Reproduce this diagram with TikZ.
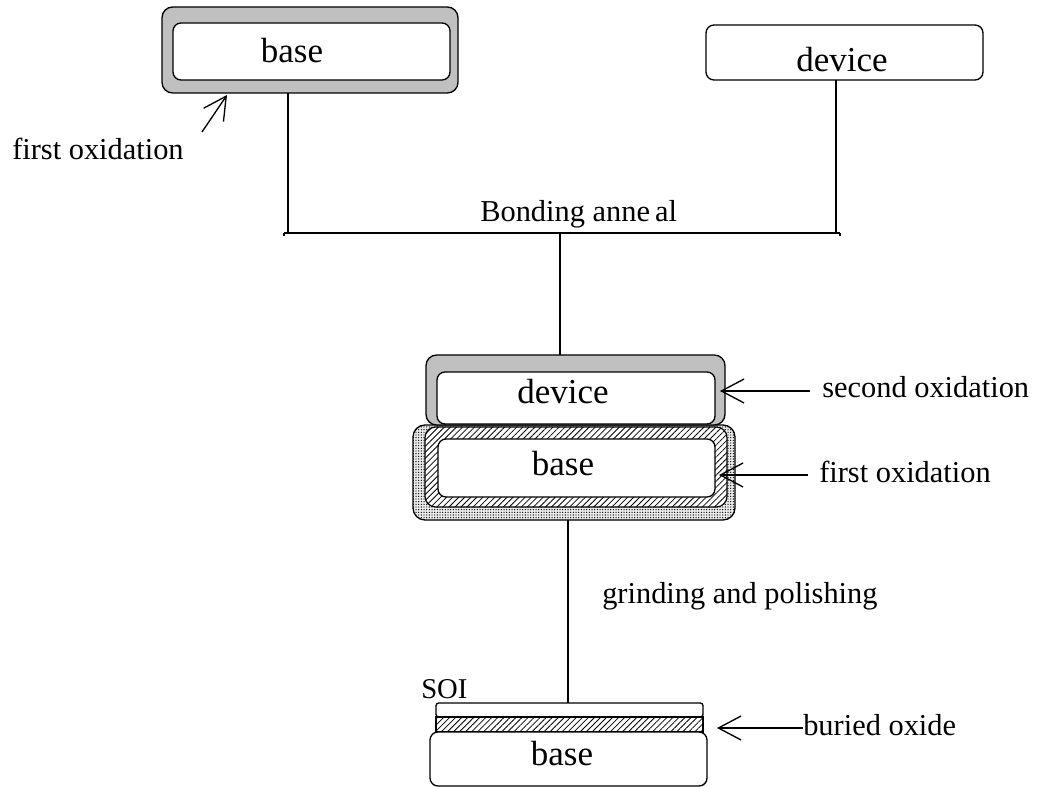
\documentclass[tikz,border=0pt]{standalone}
\usepackage{fontspec}
\setmainfont{Liberation Serif}
\usetikzlibrary{arrows.meta,patterns.meta}
\definecolor{oxgray}{HTML}{C0C0C0}
\tikzset{
  wh/.style 2 args={minimum width=#1*0.75pt, minimum height=#2*0.75pt, inner sep=0pt, outer sep=0pt},
  wafer/.style={draw=black, line width=1pt, fill=white, rounded corners=6pt},
  oxide/.style={draw=black, line width=1pt, fill=oxgray, rounded corners=8pt},
  hatch/.style={draw=black, line width=0.9pt, preaction={fill=white},
    pattern={Lines[angle=45,distance=3.2pt,line width=0.6pt]}},
  dotted ox/.style={draw=black, line width=1pt, preaction={fill=gray!15},
    pattern={Dots[distance=2pt,radius=0.5pt]}, rounded corners=9pt},
  bigtxt/.style={font=\fontsize{26.25}{30}\selectfont, inner sep=0pt, anchor=base},
  lbl/.style={font=\fontsize{22.8}{26}\selectfont, inner sep=0pt, anchor=base west},
  line/.style={line width=1pt},
  arr/.style={line width=1pt, -{Straight Barb[length=17pt,width=18pt,line width=1pt]}},
}
\begin{document}
\begin{tikzpicture}[x=0.75pt,y=-0.75pt]
\useasboundingbox (0,0) rectangle (1037,787);
% ---- top left: base with first oxidation
\node[oxide, wh={296}{86}] (ox1) at (310,50) {};
\node[wafer, wh={277}{57}] (base1) at (311.5,51.5) {};
\node[bigtxt] (base1t) at (292,63) {base};
% ---- top right: device
\node[wafer, wh={277}{55}] (dev1) at (844.5,52.5) {};
\node[bigtxt] (dev1t) at (842,72) {device};
% ---- first oxidation label (top left)
\node[lbl] (fo1) at (12,160) {first oxidation};
\coordinate (fo1tail) at (202,132);
\coordinate (fo1tip) at (227,95);
\draw[arr] (fo1tail) -- (fo1tip);
% ---- bonding anneal junction
\coordinate (j1) at (288,233);
\coordinate (j2) at (836,233);
\coordinate (jm) at (560,233);
\draw[line] (ox1.south -| j1) -- (j1);
\draw[line] (dev1.south -| j2) -- (j2);
\draw[line] ([xshift=-3]j1) -- ([xshift=3]j2);
\draw[line] ([xshift=-3]j1) -- ++(0,3);
\draw[line] ([xshift=3]j2) -- ++(0,3);
\node[lbl] (ba) at (480,222) {Bonding anne\,al};
% ---- bonded pair
\node[dotted ox, wh={322}{95}] (cmp) at (574,472.5) {};
\node[hatch, rounded corners=8pt, wh={302}{80}] (hat) at (576,467) {};
\node[wafer, wh={277}{58}] (base2) at (576.5,468) {};
\node[bigtxt] (base2t) at (563,475) {base};
\node[oxide, wh={299}{70}] (ox2) at (575.5,390) {};
\node[wafer, wh={278}{52}] (dev2) at (576,398) {};
\node[bigtxt] (dev2t) at (563,403) {device};
\draw[line] (jm) -- (ox2.north -| jm);
% ---- side labels
\node[lbl] (so) at (822,397) {second oxidation};
\coordinate (sotail) at (810,391);
\coordinate (sotip) at (720,391);
\draw[arr] (sotail) -- (sotip);
\node[lbl] (fo2) at (819,482) {first oxidation};
\coordinate (fo2tail) at (808,475);
\coordinate (fo2tip) at (719,475);
\draw[arr] (fo2tail) -- (fo2tip);
% ---- SOI result
\node[wafer, rounded corners=2pt, wh={267}{14}] (soi) at (569.5,710) {};
\node[hatch, wh={267}{15}] (box) at (569.5,724.5) {};
\node[wafer, wh={277}{54}] (base3) at (568.5,759) {};
\node[bigtxt] (base3t) at (562,765) {base};
\node[lbl, font=\fontsize{21.5}{24}\selectfont] (soit) at (421,698) {SOI};
\draw[line] (cmp.south -| 568,0) -- (soi.north -| 568,0);
\node[lbl] (grind) at (602,603) {grinding and polishing};
\node[lbl] (bo) at (803,735) {buried oxide};
\coordinate (botip) at (717,728);
\draw[arr] (bo.west |- botip) -- (botip);
\end{tikzpicture}
\end{document}
